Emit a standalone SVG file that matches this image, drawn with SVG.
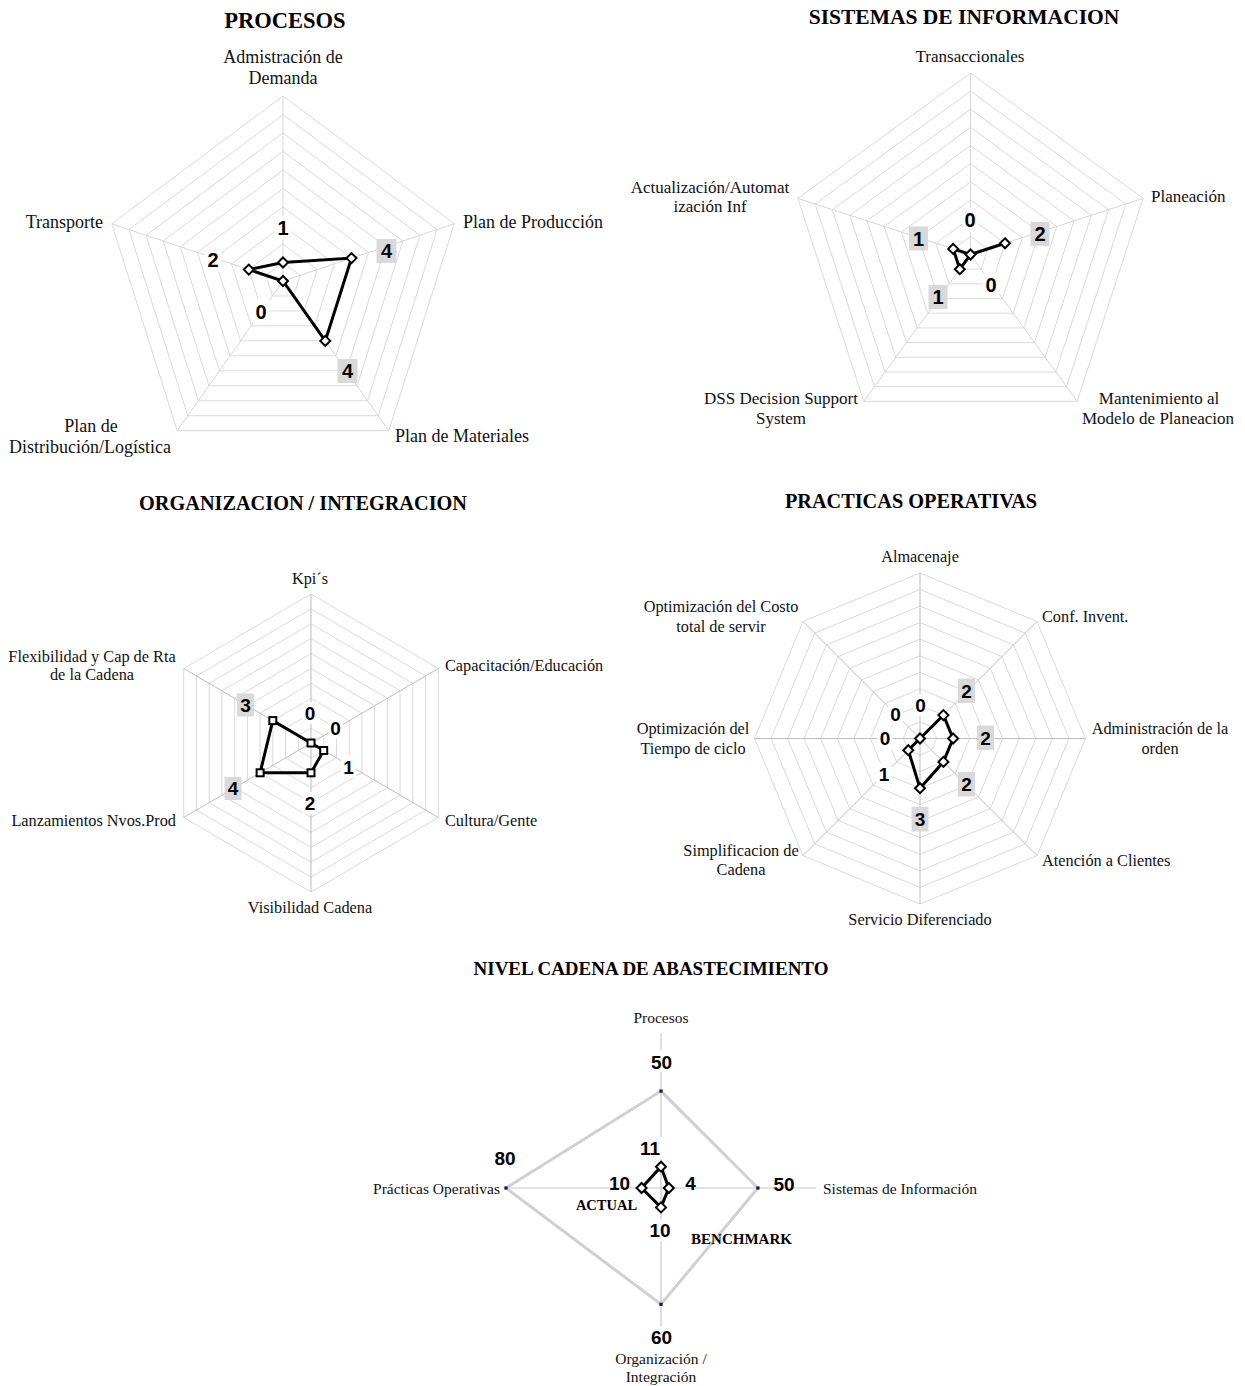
<svg xmlns="http://www.w3.org/2000/svg" xmlns:xlink="http://www.w3.org/1999/xlink" width="1245" height="1386" viewBox="0 0 1245 1386">
  <style>
    .title { font-family: "Liberation Serif", "Times New Roman", serif; font-weight: bold; fill: #000; text-anchor: middle; }
    .axis { font-family: "Liberation Serif", "Times New Roman", serif; fill: #111; }
    .num { font-family: "Liberation Sans", Arial, sans-serif; font-weight: bold; fill: #000; text-anchor: middle; }
    .ring { fill: none; stroke: #dadada; stroke-width: 1; }
    .spoke { stroke: #d6d6d6; stroke-width: 1; }
    .spoke-dk { stroke: #bdbdbd; stroke-width: 1; }
    .series { fill: none; stroke: #000; stroke-width: 3; stroke-linejoin: miter; }
    .mk { fill: #fff; stroke: #000; stroke-width: 2; }
    .hl { fill: #d9d9d9; }
    .bg { fill: #fff; }
    .bench { fill: none; stroke: #d0d0d0; stroke-width: 3; }
    .bench-pt { fill: #14145a; }
    .c5axis { stroke: #c8c8c8; stroke-width: 1.2; }
  </style>
  <defs>
    <path id="pent" vector-effect="non-scaling-stroke" d="M0,-1 L0.9511,-0.309 L0.5878,0.809 L-0.5878,0.809 L-0.9511,-0.309Z"/>
    <path id="hex" vector-effect="non-scaling-stroke" d="M0,-1 L0.866,-0.5 L0.866,0.5 L0,1 L-0.866,0.5 L-0.866,-0.5Z"/>
    <path id="oct" vector-effect="non-scaling-stroke" d="M0,-1 L0.7071,-0.7071 L1,0 L0.7071,0.7071 L0,1 L-0.7071,0.7071 L-1,0 L-0.7071,-0.7071Z"/>
    <path id="dia" class="mk" d="M0,-5 L5,0 L0,5 L-5,0Z"/>
    <rect id="sq" class="mk" x="-3.5" y="-3.5" width="7" height="7"/>
    <rect id="dot" class="bench-pt" x="-1.6" y="-1.6" width="3.2" height="3.2"/>
  </defs>

  <!-- ================= PROCESOS ================= -->
  <g id="chart-procesos">
    <text class="title" x="285" y="28" font-size="22.5">PROCESOS</text>
    <g class="ring" transform="translate(283 281)">
      <use href="#pent" transform="scale(18 18.5)"/>
      <use href="#pent" transform="scale(36 37)"/>
      <use href="#pent" transform="scale(54 55.5)"/>
      <use href="#pent" transform="scale(72 74)"/>
      <use href="#pent" transform="scale(90 92.5)"/>
      <use href="#pent" transform="scale(108 111)"/>
      <use href="#pent" transform="scale(126 129.5)"/>
      <use href="#pent" transform="scale(144 148)"/>
      <use href="#pent" transform="scale(162 166.5)"/>
      <use href="#pent" transform="scale(180 185)"/>
    </g>
    <g class="spoke">
      <line x1="283" y1="281" x2="283" y2="96"/>
      <line x1="283" y1="281" x2="454.2" y2="223.8"/>
      <line x1="283" y1="281" x2="388.8" y2="430.7"/>
      <line x1="283" y1="281" x2="177.2" y2="430.7"/>
      <line x1="283" y1="281" x2="111.8" y2="223.8"/>
    </g>
    <g class="axis" font-size="18">
      <text x="283" y="63" text-anchor="middle">Admistración de</text>
      <text x="283" y="84" text-anchor="middle">Demanda</text>
      <text x="463" y="228">Plan de Producción</text>
      <text x="395" y="442">Plan de Materiales</text>
      <text x="91" y="432" text-anchor="middle">Plan de</text>
      <text x="90" y="453" text-anchor="middle">Distribución/Logística</text>
      <text x="103" y="228" text-anchor="end">Transporte</text>
    </g>
    <g id="labels-procesos">
      <rect class="bg" x="275" y="216" width="16" height="24"/>
      <rect class="hl" x="376.5" y="239" width="20" height="24"/>
      <rect class="hl" x="337.5" y="359" width="20" height="24"/>
      <rect class="bg" x="253" y="299" width="16" height="24"/>
      <rect class="bg" x="205" y="248" width="16" height="24"/>
      <g class="num" font-size="20">
        <text x="283" y="235">1</text>
        <text x="386.5" y="258">4</text>
        <text x="347.5" y="378">4</text>
        <text x="261" y="318.5">0</text>
        <text x="213" y="267">2</text>
      </g>
    </g>
    <polygon class="series" points="283,262.5 351.5,258.1 325.3,340.9 283,281 248.8,269.6"/>
    <use href="#dia" x="283" y="262.5"/>
    <use href="#dia" x="351.5" y="258.1"/>
    <use href="#dia" x="325.3" y="340.9"/>
    <use href="#dia" x="283" y="281"/>
    <use href="#dia" x="248.8" y="269.6"/>
  </g>

  <!-- ================= SISTEMAS DE INFORMACION ================= -->
  <g id="chart-sistemas">
    <text class="title" x="964" y="23.5" font-size="21.5">SISTEMAS DE INFORMACION</text>
    <g class="ring" transform="translate(970.5 254.5)">
      <use href="#pent" transform="scale(18.15)"/>
      <use href="#pent" transform="scale(36.3)"/>
      <use href="#pent" transform="scale(54.45)"/>
      <use href="#pent" transform="scale(72.6)"/>
      <use href="#pent" transform="scale(90.75)"/>
      <use href="#pent" transform="scale(108.9)"/>
      <use href="#pent" transform="scale(127.05)"/>
      <use href="#pent" transform="scale(145.2)"/>
      <use href="#pent" transform="scale(163.35)"/>
      <use href="#pent" transform="scale(181.5)"/>
    </g>
    <g class="spoke">
      <line x1="970.5" y1="254.5" x2="970.5" y2="73"/>
      <line x1="970.5" y1="254.5" x2="1143.1" y2="198.4"/>
      <line x1="970.5" y1="254.5" x2="1077.2" y2="401.3"/>
      <line x1="970.5" y1="254.5" x2="863.8" y2="401.3"/>
      <line x1="970.5" y1="254.5" x2="797.9" y2="198.4"/>
    </g>
    <g class="axis" font-size="17">
      <text x="970" y="62" text-anchor="middle">Transaccionales</text>
      <text x="1151" y="202">Planeación</text>
      <text x="1159" y="404" text-anchor="middle">Mantenimiento al</text>
      <text x="1158" y="424" text-anchor="middle">Modelo de Planeacion</text>
      <text x="781" y="404" text-anchor="middle">DSS Decision Support</text>
      <text x="781" y="424" text-anchor="middle">System</text>
      <text x="710" y="193" text-anchor="middle">Actualización/Automat</text>
      <text x="710" y="212" text-anchor="middle">ización Inf</text>
    </g>
    <g id="labels-sistemas">
      <rect class="bg" x="962" y="208" width="16" height="24"/>
      <rect class="hl" x="1030.5" y="222" width="19" height="24"/>
      <rect class="bg" x="983" y="273" width="16" height="24"/>
      <rect class="hl" x="928.5" y="285" width="19" height="24"/>
      <rect class="hl" x="909" y="226.5" width="19" height="24"/>
      <g class="num" font-size="20">
        <text x="970" y="227">0</text>
        <text x="1040" y="241">2</text>
        <text x="991" y="292">0</text>
        <text x="938" y="304">1</text>
        <text x="918.5" y="245.5">1</text>
      </g>
    </g>
    <polygon class="series" points="970.5,254.5 1005,243.3 970.5,254.5 959.8,269.2 953.2,248.9"/>
    <use href="#dia" x="970.5" y="254.5"/>
    <use href="#dia" x="1005" y="243.3"/>
    <use href="#dia" x="959.8" y="269.2"/>
    <use href="#dia" x="953.2" y="248.9"/>
  </g>

  <!-- ================= ORGANIZACION / INTEGRACION ================= -->
  <g id="chart-organizacion">
    <text class="title" x="303" y="510" font-size="20.3">ORGANIZACION / INTEGRACION</text>
    <g class="ring" transform="translate(311 743)" stroke="#e0e0e0">
      <use href="#hex" transform="scale(14.7 14.9)"/>
      <use href="#hex" transform="scale(29.4 29.8)"/>
      <use href="#hex" transform="scale(44.1 44.7)"/>
      <use href="#hex" transform="scale(58.8 59.6)"/>
      <use href="#hex" transform="scale(73.5 74.5)"/>
      <use href="#hex" transform="scale(88.2 89.4)"/>
      <use href="#hex" transform="scale(102.9 104.3)"/>
      <use href="#hex" transform="scale(117.6 119.2)"/>
      <use href="#hex" transform="scale(132.3 134.1)"/>
      <use href="#hex" transform="scale(147 149)"/>
    </g>
    <g class="spoke-dk">
      <line x1="311" y1="743" x2="311" y2="594"/>
      <line x1="311" y1="743" x2="438.3" y2="668.5"/>
      <line x1="311" y1="743" x2="438.3" y2="817.5"/>
      <line x1="311" y1="743" x2="311" y2="892"/>
      <line x1="311" y1="743" x2="183.7" y2="817.5"/>
      <line x1="311" y1="743" x2="183.7" y2="668.5"/>
    </g>
    <g class="axis" font-size="16.3">
      <text x="310" y="584" text-anchor="middle">Kpi´s</text>
      <text x="445" y="671">Capacitación/Educación</text>
      <text x="445" y="826">Cultura/Gente</text>
      <text x="310" y="913" text-anchor="middle">Visibilidad Cadena</text>
      <text x="176" y="826" text-anchor="end">Lanzamientos Nvos.Prod</text>
      <text x="92" y="662" text-anchor="middle">Flexibilidad y Cap de Rta</text>
      <text x="92" y="680" text-anchor="middle">de la Cadena</text>
    </g>
    <g id="labels-organizacion">
      <rect class="bg" x="303" y="702" width="15" height="22"/>
      <rect class="bg" x="328" y="717" width="15" height="22"/>
      <rect class="bg" x="341" y="755.5" width="15" height="22"/>
      <rect class="bg" x="302.5" y="792" width="15" height="22"/>
      <rect class="hl" x="224.5" y="777" width="17" height="23"/>
      <rect class="hl" x="237" y="693.5" width="17" height="23"/>
      <g class="num" font-size="19">
        <text x="310" y="720">0</text>
        <text x="335.5" y="735">0</text>
        <text x="348.5" y="773.5">1</text>
        <text x="310" y="810">2</text>
        <text x="233" y="795">4</text>
        <text x="245.5" y="712">3</text>
      </g>
    </g>
    <polygon class="series" points="311,743 311,743 323.7,750.5 311,772.8 260.1,772.8 272.8,720.6"/>
    <use href="#sq" x="311" y="743"/>
    <use href="#sq" x="323.7" y="750.5"/>
    <use href="#sq" x="311" y="772.8"/>
    <use href="#sq" x="260.1" y="772.8"/>
    <use href="#sq" x="272.8" y="720.6"/>
  </g>

  <!-- ================= PRACTICAS OPERATIVAS ================= -->
  <g id="chart-practicas">
    <text class="title" x="911" y="508" font-size="20.3">PRACTICAS OPERATIVAS</text>
    <g class="ring" transform="translate(920 738.5)" stroke="#e0e0e0">
      <use href="#oct" transform="scale(16.55)"/>
      <use href="#oct" transform="scale(33.1)"/>
      <use href="#oct" transform="scale(49.65)"/>
      <use href="#oct" transform="scale(66.2)"/>
      <use href="#oct" transform="scale(82.75)"/>
      <use href="#oct" transform="scale(99.3)"/>
      <use href="#oct" transform="scale(115.85)"/>
      <use href="#oct" transform="scale(132.4)"/>
      <use href="#oct" transform="scale(148.95)"/>
      <use href="#oct" transform="scale(165.5)"/>
    </g>
    <g class="spoke-dk">
      <line x1="920" y1="738.5" x2="920" y2="573"/>
      <line x1="920" y1="738.5" x2="1037" y2="621.5"/>
      <line x1="920" y1="738.5" x2="1085.5" y2="738.5"/>
      <line x1="920" y1="738.5" x2="1037" y2="855.5"/>
      <line x1="920" y1="738.5" x2="920" y2="904"/>
      <line x1="920" y1="738.5" x2="803" y2="855.5"/>
      <line x1="920" y1="738.5" x2="754.5" y2="738.5"/>
      <line x1="920" y1="738.5" x2="803" y2="621.5"/>
    </g>
    <g class="axis" font-size="16.3">
      <text x="920" y="562" text-anchor="middle">Almacenaje</text>
      <text x="1042" y="622">Conf. Invent.</text>
      <text x="1160" y="734" text-anchor="middle">Administración de la</text>
      <text x="1160" y="754" text-anchor="middle">orden</text>
      <text x="1042" y="866">Atención a Clientes</text>
      <text x="920" y="925" text-anchor="middle">Servicio Diferenciado</text>
      <text x="741" y="856" text-anchor="middle">Simplificacion de</text>
      <text x="741" y="875" text-anchor="middle">Cadena</text>
      <text x="693" y="734" text-anchor="middle">Optimización del</text>
      <text x="693" y="754" text-anchor="middle">Tiempo de ciclo</text>
      <text x="721" y="612" text-anchor="middle">Optimización del Costo</text>
      <text x="721" y="632" text-anchor="middle">total de servir</text>
    </g>
    <g id="labels-practicas">
      <rect class="bg" x="913" y="694" width="15" height="22"/>
      <rect class="bg" x="888" y="703" width="15" height="22"/>
      <rect class="bg" x="877.5" y="727.5" width="15" height="22"/>
      <rect class="bg" x="876.5" y="763" width="15" height="22"/>
      <rect class="hl" x="911.5" y="807" width="17" height="24.5"/>
      <rect class="hl" x="958" y="772" width="17" height="24.5"/>
      <rect class="hl" x="977" y="725.5" width="17" height="24.5"/>
      <rect class="hl" x="958" y="678.5" width="17" height="24.5"/>
      <g class="num" font-size="19">
        <text x="920.5" y="712">0</text>
        <text x="895.5" y="721">0</text>
        <text x="885" y="745">0</text>
        <text x="884" y="781">1</text>
        <text x="920" y="826">3</text>
        <text x="966.5" y="791">2</text>
        <text x="985.5" y="744.5">2</text>
        <text x="966.5" y="698">2</text>
      </g>
    </g>
    <polygon class="series" points="920,738.5 943.4,715.1 953.1,738.5 943.4,761.9 920,788.2 908.3,750.2 920,738.5 920,738.5"/>
    <use href="#dia" x="920" y="738.5"/>
    <use href="#dia" x="943.4" y="715.1"/>
    <use href="#dia" x="953.1" y="738.5"/>
    <use href="#dia" x="943.4" y="761.9"/>
    <use href="#dia" x="920" y="788.2"/>
    <use href="#dia" x="908.3" y="750.2"/>
  </g>

  <!-- ================= NIVEL CADENA DE ABASTECIMIENTO ================= -->
  <g id="chart-nivel">
    <text class="title" x="651" y="975" font-size="19">NIVEL CADENA DE ABASTECIMIENTO</text>
    <g class="c5axis">
      <line x1="661" y1="1033" x2="661" y2="1343"/>
      <line x1="506" y1="1188" x2="816" y2="1188"/>
    </g>
    <g class="axis" font-size="15.5">
      <text x="661" y="1023" text-anchor="middle">Procesos</text>
      <text x="823" y="1194">Sistemas de Información</text>
      <text x="500" y="1194" text-anchor="end">Prácticas Operativas</text>
      <text x="661" y="1364" text-anchor="middle">Organización /</text>
      <text x="661" y="1382" text-anchor="middle">Integración</text>
    </g>
    <polygon class="bench" points="661,1091.1 757.9,1188 661,1304.3 506,1188"/>
    <use href="#dot" x="661" y="1091.1"/>
    <use href="#dot" x="757.9" y="1188"/>
    <use href="#dot" x="661" y="1304.3"/>
    <use href="#dot" x="506" y="1188"/>
    <g id="labels-nivel">
      <rect class="bg" x="648" y="1050" width="27" height="22"/>
      <rect class="bg" x="648" y="1326" width="27" height="22"/>
      <rect class="bg" x="636.5" y="1137" width="27" height="22"/>
      <rect class="bg" x="646.5" y="1219" width="27" height="22"/>
      <g class="num" font-size="19">
        <text x="661.5" y="1068.5">50</text>
        <text x="784" y="1191">50</text>
        <text x="661.5" y="1343.5">60</text>
        <text x="505" y="1165">80</text>
        <text x="650" y="1155">11</text>
        <text x="690.5" y="1190">4</text>
        <text x="619.5" y="1190">10</text>
        <text x="660" y="1237">10</text>
      </g>
      <text class="title" x="606.5" y="1209.5" font-size="14.5">ACTUAL</text>
      <text class="title" x="741.5" y="1244" font-size="15">BENCHMARK</text>
    </g>
    <polygon class="series" points="661,1166.7 668.8,1188 661,1207.4 641.6,1188"/>
    <use href="#dia" x="661" y="1166.7"/>
    <use href="#dia" x="668.8" y="1188"/>
    <use href="#dia" x="661" y="1207.4"/>
    <use href="#dia" x="641.6" y="1188"/>
  </g>
</svg>
